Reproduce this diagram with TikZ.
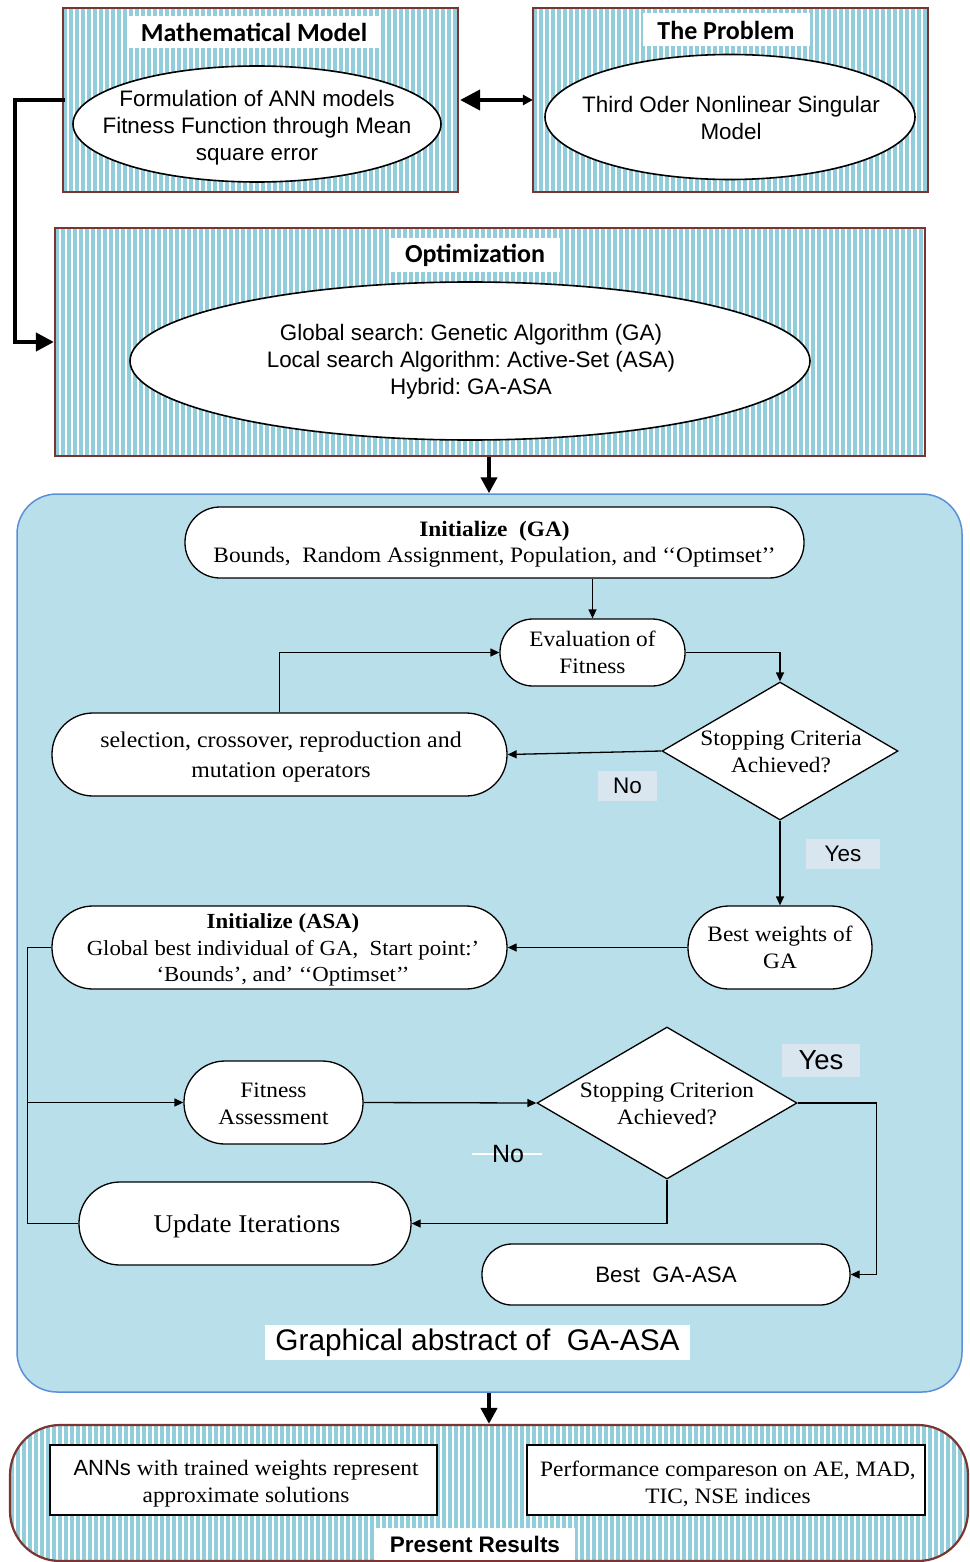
\documentclass[tikz,border=0pt]{standalone}
\usepackage{fontspec}
\setmainfont{Liberation Serif}[FakeStretch=1.06]
\setsansfont{Liberation Sans}
\newfontfamily\calfont{Carlito}
\usetikzlibrary{shapes.geometric,arrows.meta,calc}
\definecolor{stripec}{HTML}{92CDDC}
\definecolor{brownc}{HTML}{7B3530}
\definecolor{gafill}{HTML}{B9DFEA}
\definecolor{gaborder}{HTML}{5B8FD9}
\definecolor{labfill}{HTML}{D9E6F0}
\frenchspacing
\tikzset{
  striped/.style={path picture={\foreach \i in {0,...,165}{\fill[stripec, sharp corners] ([xshift=\i*6pt]path picture bounding box.south west) rectangle ([xshift=\i*6pt+3.8pt]path picture bounding box.north west);}}},
  outerbox/.style={draw=brownc, line width=2.2pt, inner sep=0pt, striped},
  titlebox/.style={fill=white, inner sep=0pt, font=\calfont\bfseries\fontsize{26}{30}\selectfont},
  ell/.style={ellipse, draw=black, line width=1.6pt, fill=white, inner sep=0pt},
  elltext/.style={inner sep=0pt, align=center, font=\sffamily\fontsize{22.4}{27}\selectfont},
  stad/.style={draw=black, line width=1.3pt, fill=white, rounded corners=#1, inner sep=0pt, align=center, font=\fontsize{22}{27}\selectfont},
  stad/.default=40pt,
  dia/.style={diamond, draw=black, line width=1.3pt, fill=white, inner sep=0pt},
  diatext/.style={inner sep=0pt, align=center, font=\fontsize{22}{26.5}\selectfont},
  lab/.style={fill=labfill, inner sep=0pt, font=\sffamily\fontsize{22.5}{26}\selectfont},
  conn/.style={draw=black, line width=1.3pt},
  arr/.style={conn, -{Triangle[length=9pt,width=8pt]}},
  thickarr/.style={draw=black, line width=4pt, -{Triangle[length=16pt,width=16pt]}},
  resbox/.style={draw=black, line width=1.5pt, fill=white, inner sep=0pt},
  restext/.style={inner sep=0pt, align=center, font=\fontsize{22}{27}\selectfont},
}
\begin{document}
\begin{tikzpicture}[x=1pt,y=-1pt]
\useasboundingbox (0,0) rectangle (969,1562);
% top boxes
\node[outerbox, minimum width=395pt, minimum height=184pt] (mm) at (260.5,100) {};
\node[outerbox, minimum width=395pt, minimum height=184pt] (prob) at (730.5,100) {};
\node[outerbox, minimum width=870pt, minimum height=228pt] (opt) at (490,342) {};
\node[titlebox, minimum width=252pt, minimum height=32pt] (mmt) at (254,32) {Mathematical Model};
\node[titlebox, minimum width=167pt, minimum height=33pt] (probt) at (726,30) {The Problem};
\node[titlebox, minimum width=170pt, minimum height=34pt] (optt) at (475,255) {Optimization};
\node[ell, minimum width=368pt, minimum height=116pt] (e1) at (257,124) {};
\node[elltext] (e1t) at (257,128) {Formulation of ANN models\\Fitness Function through Mean\\square error};
\node[ell, minimum width=370pt, minimum height=125pt] (e2) at (730,117) {};
\node[elltext] (e2t) at (731,118) {Third Oder Nonlinear Singular\\Model};
\node[ell, minimum width=680pt, minimum height=158pt] (e3) at (470,361) {};
\node[elltext] (e3t) at (471,362) {Global search: Genetic Algorithm (GA)\\Local search Algorithm: Active-Set (ASA)\\Hybrid: GA-ASA};
% top connectors
\draw[draw=black, line width=4pt, {Triangle[length=20pt,width=20pt]}-{Triangle[length=10pt,width=10pt]}] ([xshift=1pt]mm.east) -- ([xshift=1pt]prob.west);
\draw[thickarr, -{Triangle[length=18pt,width=18pt]}] ([xshift=3pt]mm.west) -- ++(-50,0) |- (opt.west);
% GA-ASA panel
\node[draw=gaborder, line width=1.5pt, fill=gafill, rounded corners=40pt, minimum width=945pt, minimum height=898pt, inner sep=0pt] (ga) at (489.5,943) {};
\draw[thickarr] ([xshift=-1pt]opt.south) -- ([xshift=-1pt]opt.south |- ga.north);
\node[stad=35pt, minimum width=619pt, minimum height=71pt] (gai) at (494.5,542.5) {};
\node[diatext] (gait) at (494.5,544) {\textbf{Initialize~ (GA)}\\Bounds,~ Random Assignment, Population, and ‘‘Optimset’’};
\node[stad=33pt, minimum width=185pt, minimum height=67pt] (eval) at (592.5,652.5) {Evaluation of\\Fitness};
\node[stad=41pt, minimum width=455pt, minimum height=83pt] (sel) at (279.5,754.5) {};
\node[diatext, font=\fontsize{22.5}{30}\selectfont] (selt) at (281,757.5) {selection, crossover, reproduction and\\mutation operators};
\node[dia, minimum width=236pt, minimum height=138pt] (d1) at (780,751) {};
\node[diatext] (d1t) at (781,752) {Stopping Criteria\\Achieved?};
\node[stad=41pt, minimum width=184pt, minimum height=83pt] (bw) at (780,947.5) {Best weights of\\GA};
\node[stad=41pt, minimum width=455pt, minimum height=83pt] (asa) at (279.5,947.5) {};
\node[diatext, font=\fontsize{21.5}{26.5}\selectfont] (asat) at (283,950) {\textbf{Initialize (ASA)}\\Global best individual of GA,~ Start point:’\\‘Bounds’, and’ ‘‘Optimset’’};
\node[stad=41pt, minimum width=179pt, minimum height=83pt] (fit) at (273.5,1102.5) {};
\node[diatext] (fitt) at (273.5,1104) {Fitness\\Assessment};
\node[dia, minimum width=260pt, minimum height=152pt] (d2) at (667,1103) {};
\node[diatext] (d2t) at (667,1104) {Stopping Criterion\\Achieved?};
\node[stad=41pt, minimum width=332pt, minimum height=83pt] (upd) at (245,1223.5) {};
\node[diatext, font=\fontsize{25.5}{30}\selectfont] (updt) at (247,1226.5) {Update Iterations};
\node[stad=30pt, minimum width=368pt, minimum height=61pt, font=\sffamily\fontsize{22.3}{26}\selectfont] (best) at (666,1274.5) {Best~ GA-ASA};
\node[lab, minimum width=59pt, minimum height=30pt] (no1) at (627.5,786) {No};
\node[lab, minimum width=74pt, minimum height=30pt] (yes1) at (843,854) {Yes};
\node[lab, minimum width=78pt, minimum height=33pt, font=\sffamily\fontsize{27.5}{30}\selectfont] (yes2) at (821,1060.5) {Yes};
\coordinate (nol) at (472,1154);
\coordinate (nor) at (542,1154);
\draw[white, line width=1.2pt] (nol) -- (nor);
\node[inner sep=1pt, font=\sffamily\fontsize{25}{28}\selectfont] (no2) at (508,1154) {No};
\node[fill=white, inner sep=0pt, minimum width=425pt, minimum height=35pt, font=\sffamily\fontsize{29.8}{32}\selectfont] (gat) at (477.5,1342.5) {Graphical abstract of~ GA-ASA};
% flow connectors
\draw[arr] (gai.south -| eval.north) -- (eval.north);
\draw[arr] (eval.east) -| (d1.north);
\draw[arr] (d1.west) -- (sel.east);
\draw[arr] (sel.north) |- (eval.west);
\draw[arr] (d1.south) -- (bw.north);
\draw[arr] (bw.west) -- (asa.east);
\draw[conn] (asa.west) -- ++(-24,0) coordinate (c1) |- (upd.west);
\draw[arr] (c1 |- fit.west) -- (fit.west);
\draw[arr] (fit.east) -- (d2.west);
\draw[arr] (d2.south) |- (upd.east);
\draw[arr] (d2.east) -- ++(79,0) |- (best.east);
% present results
\node[outerbox, rounded corners=50pt, minimum width=958pt, minimum height=136pt] (pr) at (489,1493) {};
\draw[thickarr] ([xshift=-0.5pt]ga.south) -- ([xshift=-0.5pt]ga.south |- pr.north);
\node[resbox, minimum width=387pt, minimum height=70pt] (ann) at (243.5,1480) {};
\node[restext] (annt) at (246,1484) {{\sffamily ANNs} with trained weights represent\\approximate solutions};
\node[resbox, minimum width=398pt, minimum height=70pt] (perf) at (726,1480) {};
\node[restext] (perft) at (728,1484) {Performance compareson on AE, MAD,\\TIC, NSE indices};
\node[fill=white, inner sep=0pt, minimum width=200pt, minimum height=32pt, font=\sffamily\bfseries\fontsize{22.5}{24}\selectfont] (prt) at (475,1544) {Present Results};
\end{tikzpicture}
\end{document}
